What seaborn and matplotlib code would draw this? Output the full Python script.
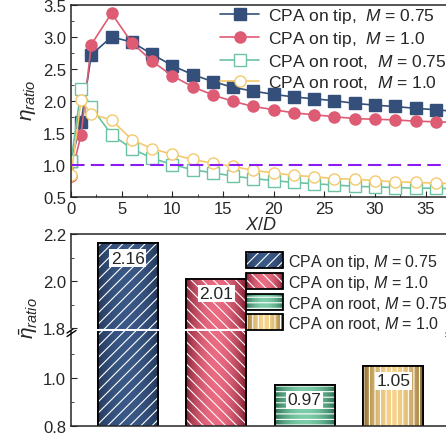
import numpy as np
import pandas as pd
import matplotlib
matplotlib.use('Agg')
import matplotlib.pyplot as plt
import seaborn as sns
from matplotlib.patches import Rectangle, Patch
from matplotlib.lines import Line2D
from matplotlib.legend_handler import HandlerBase
from matplotlib.colors import LinearSegmentedColormap

# ---------------------------------------------------------------------------
# Data
# ---------------------------------------------------------------------------
x_dist = [0, 1, 2, 4, 6, 8, 10, 12, 14, 16, 18, 20, 22, 24, 26, 28, 30, 32, 34, 36, 38]

tip_075 = [1.05, 1.66, 2.72, 3.00, 2.92, 2.73, 2.55, 2.41, 2.30, 2.21, 2.15,
           2.10, 2.06, 2.03, 2.00, 1.96, 1.93, 1.91, 1.88, 1.86, 1.83]
tip_10 = [0.82, 1.47, 2.88, 3.37, 2.91, 2.62, 2.39, 2.22, 2.09, 1.99, 1.91,
          1.86, 1.81, 1.78, 1.75, 1.72, 1.71, 1.70, 1.68, 1.67, 1.66]
root_075 = [1.05, 2.19, 1.90, 1.47, 1.25, 1.10, 1.00, 0.92, 0.87, 0.82, 0.78,
            0.75, 0.72, 0.70, 0.68, 0.66, 0.65, 0.64, 0.63, 0.63, 0.62]
root_10 = [0.83, 2.01, 1.79, 1.70, 1.39, 1.25, 1.16, 1.08, 1.02, 0.97, 0.91,
           0.87, 0.83, 0.81, 0.78, 0.77, 0.75, 0.73, 0.72, 0.71, 0.70]

line_labels = [r'CPA on tip,  $M$ = 0.75', r'CPA on tip,  $M$ = 1.0',
               r'CPA on root,  $M$ = 0.75', r'CPA on root,  $M$ = 1.0']

bar_cases = ['tip_075', 'tip_10', 'root_075', 'root_10']
bar_means = [2.16, 2.01, 0.97, 1.05]
bar_labels = [r'CPA on tip, $M$ = 0.75', r'CPA on tip, $M$ = 1.0',
              r'CPA on root, $M$ = 0.75', r'CPA on root, $M$ = 1.0']

# ---------------------------------------------------------------------------
# Style
# ---------------------------------------------------------------------------
navy, red, green, gold = '#34507a', '#de5b74', '#6cc3a3', '#f4c96c'
bar_dark = ['#223758', '#7e1c30', '#256a4f', '#85632a']
bar_light = ['#3a5886', '#ea6b82', '#7ccca8', '#f6d38a']
bar_hatch = ['///', '\\\\\\', '---', '|||']

sns.set_style('ticks')
plt.rcParams.update({
    'font.family': ['Liberation Sans', 'DejaVu Sans'],
    'mathtext.fontset': 'custom',
    'mathtext.rm': 'Liberation Sans',
    'mathtext.it': 'Liberation Sans:italic',
    'axes.linewidth': 1.1,
    'xtick.direction': 'in',
    'ytick.direction': 'in',
    'xtick.major.size': 4.5,
    'ytick.major.size': 4.5,
    'xtick.minor.size': 2.5,
    'ytick.minor.size': 2.5,
    'xtick.labelsize': 12,
    'ytick.labelsize': 12,
    'hatch.color': 'white',
    'hatch.linewidth': 0.8,
})

W, H = 446, 439
fig = plt.figure(figsize=(W / 100, H / 100), dpi=100)


def px_axes(left, top, right, bottom):
    return fig.add_axes([left / W, 1 - bottom / H, (right - left) / W, (bottom - top) / H])


ax_line = px_axes(71, 6, 451, 197.5)
ax_hi = px_axes(71, 235, 450, 329.5)
ax_lo = px_axes(71, 331.5, 450, 427)
ax_hi.set_zorder(3)   # keep the bar legend above the lower panel

# ---------------------------------------------------------------------------
# Top panel: eta_ratio along X/D
# ---------------------------------------------------------------------------
series = [(tip_075, 's', navy, navy), (tip_10, 'o', red, red),
          (root_075, 's', green, 'white'), (root_10, 'o', gold, 'white')]
for (vals, mk, col, face), lab in zip(series, line_labels):
    sns.lineplot(x=x_dist, y=vals, ax=ax_line, color=col, marker=mk,
                 markersize=8, markerfacecolor=face, markeredgecolor=col,
                 markeredgewidth=1.0, linewidth=1.2, label=lab)

ax_line.axhline(1.0, color='#8a1cf2', lw=1.5, ls=(0, (6.5, 3)), zorder=5)
ax_line.set_xlim(0, 37.5)
ax_line.set_ylim(0.5, 3.5)
ax_line.set_xticks(np.arange(0, 36, 5))
ax_line.set_xticks(np.arange(2.5, 38, 5), minor=True)
ax_line.set_yticks(np.arange(0.5, 3.51, 0.5))
ax_line.set_yticks(np.arange(0.75, 3.5, 0.5), minor=True)
ax_line.set_xlabel('')
ax_line.set_ylabel('')
ax_line.legend(loc='upper left', bbox_to_anchor=(220 / W, 1 - 7 / H),
               bbox_transform=fig.transFigure, frameon=False, borderpad=0,
               borderaxespad=0, handlelength=2.25, handletextpad=0.52,
               labelspacing=0.22, fontsize=12.5, numpoints=1)

fig.text(29 / W, 1 - 100 / H, r'$\eta_{ratio}$', rotation=90,
         ha='center', va='center', fontsize=15)
fig.text(261 / W, 1 - 226 / H, r'$X/D$', ha='center', va='center', fontsize=13)

# ---------------------------------------------------------------------------
# Bottom panel: mean eta_ratio with a broken y axis
# ---------------------------------------------------------------------------
bar_df = pd.DataFrame({'case': bar_cases, 'eta': bar_means})
profile = np.sin(np.pi * np.linspace(0, 1, 64)) ** 0.7

for ax in (ax_hi, ax_lo):
    sns.barplot(data=bar_df, x='case', y='eta', hue='case', palette=bar_light,
                width=0.675, ax=ax, legend=False, saturation=1,
                edgecolor='black', linewidth=1.3)
    for i, patch in enumerate(list(ax.patches)):
        x0, w, h = patch.get_x(), patch.get_width(), patch.get_height()
        z = patch.get_zorder()
        cmap = LinearSegmentedColormap.from_list('g', [bar_dark[i], bar_light[i]])
        ax.imshow(profile[None, :], cmap=cmap, vmin=0, vmax=1, aspect='auto',
                  extent=[x0, x0 + w, 0, h], interpolation='bilinear', zorder=z + 0.1)
        ax.add_patch(Rectangle((x0, 0), w, h, facecolor='none', edgecolor='white',
                               hatch=bar_hatch[i], linewidth=0, zorder=z + 0.2))
        ax.add_patch(Rectangle((x0, 0), w, h, facecolor='none', edgecolor='black',
                               linewidth=1.3, zorder=z + 0.3))
    ax.set_xlim(-0.64, 3.64)
    ax.set_xticks([])
    ax.set_xlabel('')
    ax.set_ylabel('')

ax_hi.set_ylim(1.8, 2.2)
ax_hi.set_yticks([1.8, 2.0, 2.2])
ax_hi.set_yticks([1.9, 2.1], minor=True)
ax_hi.spines['bottom'].set_visible(False)
ax_lo.set_ylim(0.8, 1.2)
ax_lo.set_yticks([0.8, 1.0])
ax_lo.set_yticks([0.9, 1.1], minor=True)
ax_lo.spines['top'].set_visible(False)

for i, v in enumerate(bar_means):
    ax = ax_hi if v > 1.5 else ax_lo
    ax.annotate(f'{v:.2f}', xy=(i, v), xytext=(0, -10.5), textcoords='offset points',
                ha='center', va='center', fontsize=12.5, zorder=10,
                bbox=dict(boxstyle='square,pad=0.08', fc='white', ec='none'))

# break marks on the y axis
for xs in (71, 450):
    for dy in (0, 3.5):
        fig.add_artist(Line2D([(xs - 4) / W, (xs + 5) / W],
                              [1 - (334 + dy) / H, 1 - (328 + dy) / H],
                              color='black', lw=1.0))


class GradientHandler(HandlerBase):
    def __init__(self, dark, light, hatch):
        super().__init__()
        self.cmap = LinearSegmentedColormap.from_list('g', [dark, light])
        self.hatch = hatch

    def create_artists(self, legend, orig_handle, xdescent, ydescent,
                       width, height, fontsize, trans):
        x0, y0 = -xdescent, -ydescent
        n = 24
        arts = []
        for k in range(n):
            t = np.sin(np.pi * (k + 0.5) / n) ** 0.7
            arts.append(Rectangle((x0 + width * k / n, y0), width / n + 0.4, height,
                                  facecolor=self.cmap(t), edgecolor='none', transform=trans))
        arts.append(Rectangle((x0, y0), width, height, facecolor='none', edgecolor='white',
                              hatch=self.hatch, linewidth=0, transform=trans))
        arts.append(Rectangle((x0, y0), width, height, facecolor='none', edgecolor='black',
                              linewidth=1.3, transform=trans))
        return arts


bar_handles = [Patch(label=lab) for lab in bar_labels]
handler_map = {h: GradientHandler(bar_dark[i], bar_light[i], bar_hatch[i])
               for i, h in enumerate(bar_handles)}
ax_hi.legend(handles=bar_handles, handler_map=handler_map, loc='upper left',
             bbox_to_anchor=(246 / W, 1 - 252.5 / H), bbox_transform=fig.transFigure,
             frameon=False, borderpad=0, borderaxespad=0, handlelength=2.31,
             handleheight=1.13, handletextpad=0.3, labelspacing=0.13, fontsize=11.5)

fig.text(29 / W, 1 - 318 / H, r'$\bar{\eta}_{ratio}$', rotation=90,
         ha='center', va='center', fontsize=15)

fig.savefig('out.png', dpi=100)
